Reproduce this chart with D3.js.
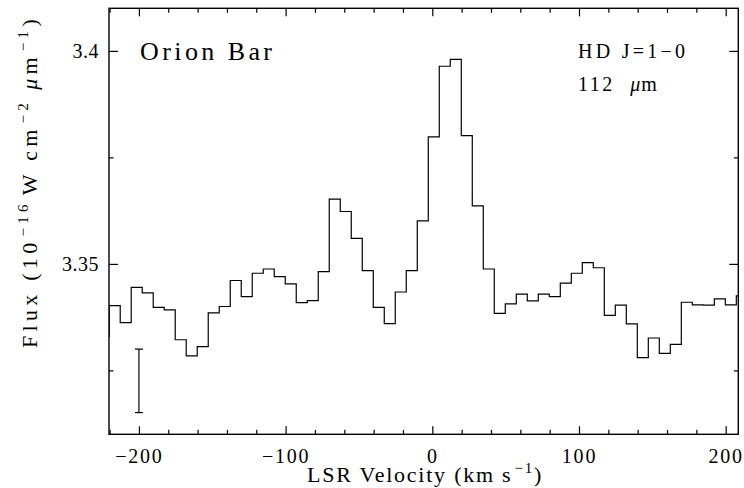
<!DOCTYPE html>
<html>
<head>
<script src="https://cdnjs.cloudflare.com/ajax/libs/d3/7.8.5/d3.min.js"></script>
<style>
  body { margin: 0; background: #fff; }
  svg text { font-family: "Liberation Serif", "Times New Roman", serif; fill: #000; }
</style>
</head>
<body>
<div id="chart"></div>
<script>
// bin centres (km/s) and flux (1e-16 W cm^-2 um^-1)
const velocity = [-224, -216.5, -209, -201.5, -194, -186.5, -179, -171.5, -164, -156.5,
  -149, -141.5, -134, -126.5, -119, -111.5, -104, -96.5, -89, -81.5,
  -74, -66.5, -59, -51.5, -44, -36.5, -29, -21.5, -14, -6.5,
  1, 8.5, 16, 23.5, 31, 38.5, 46, 53.5, 61, 68.5,
  76, 83.5, 91, 98.5, 106, 113.5, 121, 128.5, 136, 143.5,
  151, 158.5, 166, 173.5, 181, 188.5, 196, 203.5, 211];
const flux = [3.3329, 3.3402, 3.3362, 3.3445, 3.3432, 3.3398, 3.3392, 3.3322, 3.3284, 3.3306,
  3.3385, 3.3400, 3.3461, 3.3423, 3.3478, 3.3488, 3.3470, 3.3453, 3.3409, 3.3414,
  3.3482, 3.3652, 3.3623, 3.3560, 3.3484, 3.3398, 3.3360, 3.3434, 3.3484, 3.3601,
  3.3798, 3.3964, 3.3980, 3.3801, 3.3636, 3.3488, 3.3384, 3.3406, 3.3429, 3.3413,
  3.3429, 3.3423, 3.3455, 3.3478, 3.3503, 3.3491, 3.3379, 3.3403, 3.3359, 3.3280,
  3.3326, 3.3290, 3.3311, 3.3410, 3.3404, 3.3403, 3.3418, 3.3404, 3.3425];

const xMajor = [-200, -100, 0, 100, 200];
const xMinor = [-220, -180, -160, -140, -120, -80, -60, -40, -20, 20, 40, 60, 80, 120, 140, 160, 180];
const yMajor = [3.35, 3.4];
const yMinor = [3.325, 3.375];

// representative error bar
const errVel = -200;
const errLow = 3.3151;
const errHigh = 3.3300;

const W = 744, H = 488;
const pLeft = 109, pRight = 738.3, pTop = 8.3, pBottom = 434.3;

const svg = d3.select("#chart").append("svg")
  .attr("width", W).attr("height", H);

const x = d3.scaleLinear().domain([-220.4, 208.6]).range([pLeft, pRight]);
const y = d3.scaleLinear().domain([3.31, 3.41]).range([pBottom, pTop]);

svg.append("defs").append("clipPath").attr("id", "clip")
  .append("rect").attr("x", pLeft).attr("y", pTop)
  .attr("width", pRight - pLeft).attr("height", pBottom - pTop);

const fmtX = d => d < 0 ? "\u2212" + Math.abs(d) : String(d);

function styleAxis(g) {
  g.select(".domain").remove();
  g.selectAll("line").attr("stroke", "#000").attr("stroke-width", 1.2);
  g.selectAll("text").attr("font-size", 20).attr("font-family", "Liberation Serif").attr("fill", "#000");
}

// stretch letter spacing so a label covers the same length as in the original
function fitWidth(sel, target) {
  const n = sel.text().length;
  const w = sel.node().getComputedTextLength();
  sel.attr("letter-spacing", Math.max(0, (target - w) / n));
}

// bottom
svg.append("g").attr("transform", `translate(0,${pBottom})`)
  .call(d3.axisBottom(x).tickValues(xMajor).tickSize(-8).tickPadding(15).tickFormat(fmtX))
  .call(styleAxis)
  .call(g => g.selectAll("text").attr("letter-spacing", 1.8));
svg.append("g").attr("transform", `translate(0,${pBottom})`)
  .call(d3.axisBottom(x).tickValues(xMinor).tickSize(-4.5).tickFormat(""))
  .call(styleAxis);
// top
svg.append("g").attr("transform", `translate(0,${pTop})`)
  .call(d3.axisTop(x).tickValues(xMajor).tickSize(-8).tickFormat(""))
  .call(styleAxis);
svg.append("g").attr("transform", `translate(0,${pTop})`)
  .call(d3.axisTop(x).tickValues(xMinor).tickSize(-4.5).tickFormat(""))
  .call(styleAxis);
// left
svg.append("g").attr("transform", `translate(${pLeft},0)`)
  .call(d3.axisLeft(y).tickValues(yMajor).tickSize(-9).tickPadding(10).tickFormat(d3.format("")))
  .call(styleAxis)
  .call(g => g.selectAll("text").attr("letter-spacing", 0.5));
svg.append("g").attr("transform", `translate(${pLeft},0)`)
  .call(d3.axisLeft(y).tickValues(yMinor).tickSize(-4.5).tickFormat(""))
  .call(styleAxis);
// right
svg.append("g").attr("transform", `translate(${pRight},0)`)
  .call(d3.axisRight(y).tickValues(yMajor).tickSize(-9).tickFormat(""))
  .call(styleAxis);
svg.append("g").attr("transform", `translate(${pRight},0)`)
  .call(d3.axisRight(y).tickValues(yMinor).tickSize(-4.5).tickFormat(""))
  .call(styleAxis);

// frame
svg.append("rect")
  .attr("x", pLeft).attr("y", pTop)
  .attr("width", pRight - pLeft).attr("height", pBottom - pTop)
  .attr("fill", "none").attr("stroke", "#000").attr("stroke-width", 1.4);

// histogram
const line = d3.line()
  .x((d, i) => x(velocity[i]))
  .y(d => y(d))
  .curve(d3.curveStep);

svg.append("path")
  .attr("clip-path", "url(#clip)")
  .attr("d", line(flux))
  .attr("fill", "none")
  .attr("stroke", "#000")
  .attr("stroke-width", 1.2);

// error bar
const eb = svg.append("g").attr("stroke", "#000").attr("stroke-width", 1.2);
eb.append("line").attr("x1", x(errVel)).attr("x2", x(errVel)).attr("y1", y(errLow)).attr("y2", y(errHigh));
eb.append("line").attr("x1", x(errVel) - 4).attr("x2", x(errVel) + 4).attr("y1", y(errLow)).attr("y2", y(errLow));
eb.append("line").attr("x1", x(errVel) - 4).attr("x2", x(errVel) + 4).attr("y1", y(errHigh)).attr("y2", y(errHigh));

// labels
svg.append("text").attr("x", 140).attr("y", 60)
  .attr("font-size", 26).attr("textLength", 132).attr("lengthAdjust", "spacing")
  .text("Orion Bar");
svg.append("text").attr("x", 578).attr("y", 58)
  .attr("font-size", 20).attr("textLength", 107).attr("lengthAdjust", "spacing")
  .text("HD J=1\u22120");
const um = svg.append("text").attr("x", 578).attr("y", 91).attr("font-size", 20);
um.append("tspan").attr("letter-spacing", 2.5).text("112 ");
um.append("tspan").attr("dx", 8).attr("font-style", "italic").text("\u03bc");
um.append("tspan").attr("dx", 1).attr("letter-spacing", 1).text("m");

// x label
const xl = svg.append("text").attr("x", 307).attr("y", 482)
  .attr("font-size", 22);
xl.append("tspan").text("LSR Velocity (km s");
xl.append("tspan").attr("dy", -9).attr("dx", 2).attr("font-size", 15).text("\u22121");
xl.append("tspan").attr("dy", 9).text(")");
fitWidth(xl, 234);

// y label
const yl = svg.append("text")
  .attr("transform", "translate(37,348) rotate(-90)")
  .attr("font-size", 22);
yl.append("tspan").text("Flux (10");
yl.append("tspan").attr("dy", -9).attr("dx", 2).attr("font-size", 15).text("\u221216");
yl.append("tspan").attr("dy", 9).attr("dx", 5).text("W cm");
yl.append("tspan").attr("dy", -9).attr("dx", 2).attr("font-size", 15).text("\u22122");
yl.append("tspan").attr("dy", 9).attr("dx", 9).attr("font-style", "italic").text("\u03bc");
yl.append("tspan").text("m");
yl.append("tspan").attr("dy", -9).attr("dx", 2).attr("font-size", 15).text("\u22121");
yl.append("tspan").attr("dy", 9).text(")");
fitWidth(yl, 313);
</script>
</body>
</html>
